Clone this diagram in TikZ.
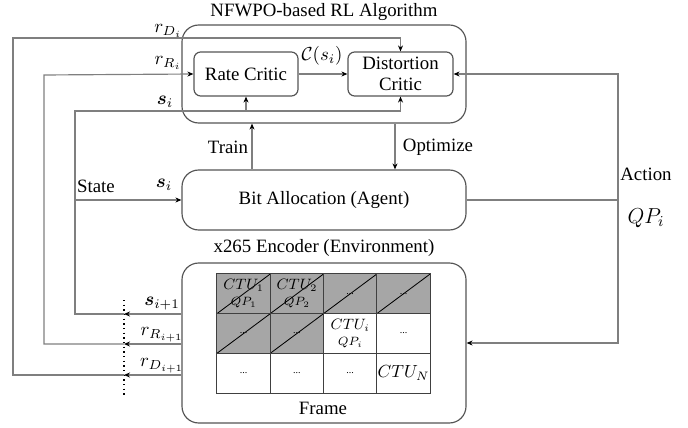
\RequirePackage{fix-cm}
\documentclass[tikz,border=0pt]{standalone}
\usepackage{amsmath}
\usepackage{fontspec}
\setmainfont{Liberation Serif}
\usetikzlibrary{arrows.meta}
\definecolor{linegray}{HTML}{7F7F7F}
\definecolor{boxgray}{HTML}{555555}
\definecolor{cellgray}{HTML}{A6A6A6}
\newcommand{\qpsize}{\fontsize{7.2}{8}\selectfont}

\begin{document}
\begin{tikzpicture}[x=0.6pt, y=-0.6pt,
    >={Stealth[length=3.6pt, width=3pt, color=black]},
    every node/.style={font=\fontsize{11.3}{13}\selectfont},
    box/.style={draw=boxgray, line width=0.7pt, rounded corners=4pt, inner sep=0pt, align=center},
    bigbox/.style={draw=boxgray, line width=0.7pt, rounded corners=10pt, inner sep=0pt},
    conn/.style={linegray, line width=0.7pt},
    cell/.style={draw=black!75, line width=0.6pt, minimum width=32pt, minimum height=23.8pt,
      inner sep=0pt, align=center, font=\fontsize{9}{9.5}\selectfont},
    done/.style={cell, fill=cellgray, path picture={
      \draw[black, line width=0.5pt] (path picture bounding box.south west) -- (path picture bounding box.north east);}},
    dots/.style={font=\fontsize{6}{7}\selectfont}]
  \useasboundingbox (0,0) rectangle (688,428);

  % RL algorithm with the two critics
  \node[bigbox, minimum width=170.4pt, minimum height=58.8pt] (alg) at (324,74) {};
  \node (algtitle) at (324,12) {NFWPO-based RL Algorithm};
  \node[box, minimum width=62.4pt, minimum height=26.4pt] (rate) at (246,74) {Rate Critic};
  \node[box, minimum width=63pt, minimum height=26.4pt, font=\fontsize{11.3}{12.5}\selectfont] (dist) at (400.5,74) {Distortion\\Critic};

  % agent
  \node[bigbox, minimum width=170.4pt, minimum height=36pt] (agent) at (324,200) {Bit Allocation (Agent)};

  % environment with the frame of CTUs
  \node[bigbox, minimum width=170.4pt, minimum height=96pt] (env) at (324,343) {};
  \node (envtitle) at (324,248) {x265 Encoder (Environment)};
  \node (frame) at (323,408) {Frame};

  \node[done] (c11) at (243.6,293.8) {$CTU_1$\\\qpsize$QP_1$};
  \node[done] (c12) at (296.9,293.8) {$CTU_2$\\\qpsize$QP_2$};
  \node[done, dots] (c13) at (350.2,293.8) {...};
  \node[done, dots] (c14) at (403.5,293.8) {...};
  \node[done, dots] (c21) at (243.6,333.5) {...};
  \node[done, dots] (c22) at (296.9,333.5) {...};
  \node[cell] (c23) at (350.2,333.5) {$CTU_i$\\\qpsize$QP_i$};
  \node[cell, dots] (c24) at (403.5,333.5) {...};
  \node[cell, dots] (c31) at (243.6,373.2) {...};
  \node[cell, dots] (c32) at (296.9,373.2) {...};
  \node[cell, dots] (c33) at (350.2,373.2) {...};
  \node[cell, font=\fontsize{10.5}{12}\selectfont] (c34) at (403.5,373.2) {$CTU_N$};

  % critic inputs
  \draw[conn, ->] (rate) -- (dist);
  \node (cost) at (322,56) {$\mathcal{C}(s_i)$};

  % train / optimize
  \draw[conn, ->] ([xshift=-43.2pt]agent.north) -- ([xshift=-43.2pt]alg.south);
  \draw[conn, ->] ([xshift=42.6pt]alg.south) -- ([xshift=42.6pt]agent.north);
  \node (train) at (228,147) {Train};
  \node (optimize) at (438,147) {Optimize};

  % feedback from the encoder, cut by the dotted line
  \coordinate (cuttop) at (124,300);
  \coordinate (cutbot) at (124,396);
  \coordinate (cutS) at (124,314);
  \coordinate (cutR) at (124,344);
  \coordinate (cutD) at (124,375);
  \coordinate (turnS) at (75,111);
  \coordinate (turnR) at (44,75);
  \coordinate (turnD) at (13,38);
  \draw[black, dotted, line width=0.8pt] (cuttop) -- (cutbot);

  \draw[conn, ->] (env.west |- cutS) -- (cutS);
  \draw[conn, ->] (env.west |- cutR) -- (cutR);
  \draw[conn, ->] (env.west |- cutD) -- (cutD);
  \draw[conn, ->] (cutS) -| (turnS) -| (dist.south);
  \draw[conn, ->] (rate.south |- turnS) -- (rate.south);
  \draw[conn, ->] (cutR) -| (turnR) -- (rate.west);
  \draw[conn, ->] (cutD) -| (turnD) -| (dist.north);
  \draw[conn, ->] (turnS |- agent.west) -- (agent.west);

  \node (sNext) at (162,304) {$\boldsymbol{s}_{i+1}$};
  \node (rRNext) at (162,335) {$r_{R_{i+1}}$};
  \node (rDNext) at (162,366) {$r_{D_{i+1}}$};
  \node (rD) at (168,31) {$r_{D_i}$};
  \node (rR) at (168,63) {$r_{R_i}$};
  \node (sTop) at (165,102) {$\boldsymbol{s}_i$};
  \node (state) at (96,186) {State};
  \node (sState) at (164,185) {$\boldsymbol{s}_i$};

  % action back to the critic and the encoder
  \coordinate (act) at (618,200);
  \draw[conn] (agent.east) -- (act);
  \draw[conn, ->] (act) |- (dist.east);
  \draw[conn, ->] (act) |- (env.east);
  \node (action) at (646,174) {Action};
  \node[font=\fontsize{13}{15}\selectfont] (qp) at (646,218) {$QP_i$};
\end{tikzpicture}
\end{document}
